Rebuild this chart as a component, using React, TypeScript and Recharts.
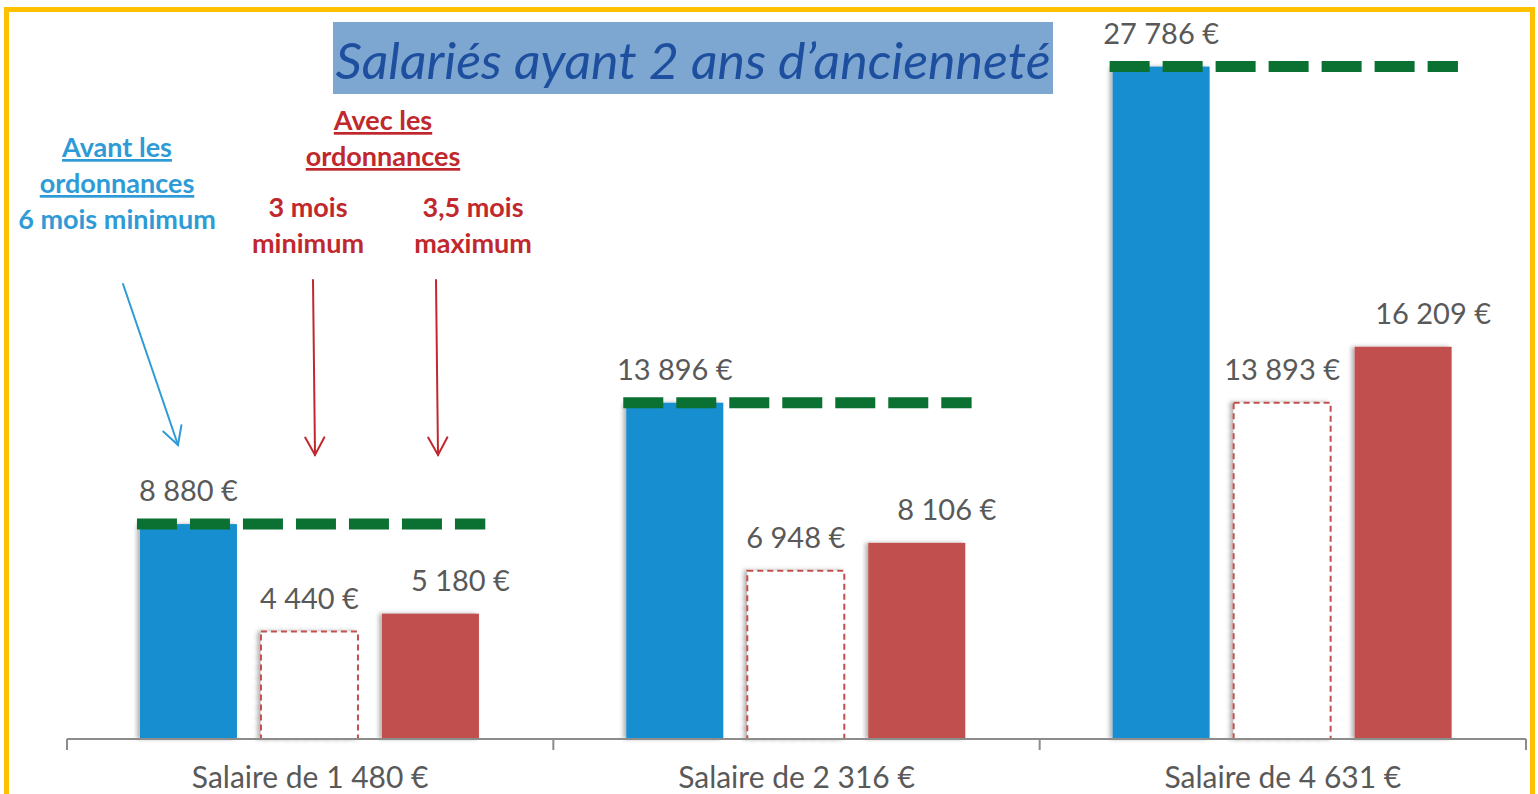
import { BarChart, Bar, XAxis, YAxis, LabelList } from "recharts";

// values
const categories = ["Salaire de 1 480 €", "Salaire de 2 316 €", "Salaire de 4 631 €"];
const avantValues = [8880, 13896, 27786]; // avant les ordonnances, 6 mois minimum
const minValues = [4440, 6948, 13893]; // avec les ordonnances, 3 mois minimum
const maxValues = [5180, 8106, 16209]; // avec les ordonnances, 3,5 mois maximum

const data = categories.map((name, i) => ({
  name,
  avant: avantValues[i],
  min: minValues[i],
  max: maxValues[i],
}));

const W = 1538;
const H = 794;
const M = { top: 13, right: 12, bottom: 0, left: 67 };
const AXIS_H = 55;
const AXIS_Y = H - AXIS_H;
const PLOT_W = W - M.left - M.right;

const BLUE = "#168ecf";
const RED = "#c0504d";
const GREEN = "#0b7133";
const GREY = "#595959";
const FONT = "Lato, 'Open Sans', sans-serif";

const fmt = (n: number) => String(n).replace(/\B(?=(\d{3})+(?!\d))/g, " ") + " €";

const makeLabel = (dx: number) => (props: any) => {
  const { x, y, width, value } = props;
  return (
    <text x={x + width / 2 + dx} y={y - 23} textAnchor="middle" fontSize={29} fill={GREY} fontFamily={FONT}>
      {fmt(value)}
    </text>
  );
};

const AvantShape = (props: any) => {
  const { x, y, width, height } = props;
  return (
    <g>
      <rect x={x} y={y} width={width} height={height} fill={BLUE} filter="url(#barShadow)" />
      <line x1={x - 3} x2={x + width * 3.56} y1={y} y2={y} stroke={GREEN} strokeWidth={11} strokeDasharray="40 13" />
    </g>
  );
};

const MinShape = (props: any) => {
  const { x, y, width, height } = props;
  return (
    <rect x={x} y={y} width={width} height={height} fill="#fff" stroke={RED} strokeWidth={2} strokeDasharray="6 4" filter="url(#barShadow)" />
  );
};

const MaxShape = (props: any) => {
  const { x, y, width, height } = props;
  return <rect x={x} y={y} width={width} height={height} fill={RED} filter="url(#barShadow)" />;
};

const CatTick = (props: any) => {
  const { x, payload, index } = props;
  const half = PLOT_W / categories.length / 2;
  return (
    <g>
      {index === 0 && <line x1={x - half} x2={x - half} y1={AXIS_Y} y2={AXIS_Y + 11} stroke="#8c8c8c" strokeWidth={2} />}
      <line x1={x + half} x2={x + half} y1={AXIS_Y} y2={AXIS_Y + 11} stroke="#8c8c8c" strokeWidth={2} />
      <text x={x} y={AXIS_Y + 49} textAnchor="middle" fontSize={30} fill={GREY} fontFamily={FONT}>
        {payload.value}
      </text>
    </g>
  );
};

const Arrow = ({ from, to, color }: { from: [number, number]; to: [number, number]; color: string }) => {
  const a = Math.atan2(to[1] - from[1], to[0] - from[0]);
  const len = 20;
  const w1: [number, number] = [to[0] - len * Math.cos(a - 0.5), to[1] - len * Math.sin(a - 0.5)];
  const w2: [number, number] = [to[0] - len * Math.cos(a + 0.5), to[1] - len * Math.sin(a + 0.5)];
  return (
    <g stroke={color} strokeWidth={2} fill="none" strokeLinecap="round">
      <line x1={from[0]} y1={from[1]} x2={to[0]} y2={to[1]} />
      <polyline points={`${w1[0]},${w1[1]} ${to[0]},${to[1]} ${w2[0]},${w2[1]}`} />
    </g>
  );
};

export default function App() {
  const blueTxt = "#2e9bd7";
  const redTxt = "#c0282d";
  return (
    <div style={{ position: "absolute", left: 0, top: 0, width: W, height: H, background: "#fff", overflow: "hidden" }}>
      <BarChart width={W} height={H} data={data} margin={M} barCategoryGap="15%" barGap={24}>
        <defs>
          <filter id="barShadow" x="-20%" y="-5%" width="140%" height="110%">
            <feDropShadow dx={-3} dy={0} stdDeviation={2} floodColor="#000" floodOpacity={0.3} />
          </filter>
        </defs>
        <YAxis hide domain={[0, 30000]} />
        <XAxis
          dataKey="name"
          height={AXIS_H}
          interval={0}
          axisLine={{ stroke: "#8c8c8c", strokeWidth: 2 }}
          tickLine={false}
          tick={<CatTick />}
        />
        <Bar dataKey="avant" shape={<AvantShape />} isAnimationActive={false}>
          <LabelList dataKey="avant" content={makeLabel(0)} />
        </Bar>
        <Bar dataKey="min" shape={<MinShape />} isAnimationActive={false}>
          <LabelList dataKey="min" content={makeLabel(0)} />
        </Bar>
        <Bar dataKey="max" shape={<MaxShape />} isAnimationActive={false}>
          <LabelList dataKey="max" content={makeLabel(30)} />
        </Bar>
      </BarChart>

      <svg width={W} height={H} style={{ position: "absolute", left: 0, top: 0, pointerEvents: "none" }}>
        <rect x={333} y={22} width={720} height={72} fill="#7da6d1" />
        <text x={693} y={79} textAnchor="middle" fontSize={50} fontStyle="italic" fill="#1d4f9e" fontFamily={FONT} textLength={715} lengthAdjust="spacingAndGlyphs">
          Salariés ayant 2 ans d’ancienneté
        </text>

        <g fontFamily={FONT} fontWeight="bold" fontSize={27} textAnchor="middle">
          <g fill={blueTxt}>
            <text x={117} y={157} textDecoration="underline">Avant les</text>
            <text x={117} y={193} textDecoration="underline">ordonnances</text>
            <text x={117} y={229}>6 mois minimum</text>
          </g>
          <g fill={redTxt}>
            <text x={383} y={130} textDecoration="underline">Avec les</text>
            <text x={383} y={166} textDecoration="underline">ordonnances</text>
            <text x={308} y={217}>3 mois</text>
            <text x={308} y={253}>minimum</text>
            <text x={473} y={217}>3,5 mois</text>
            <text x={473} y={253}>maximum</text>
          </g>
        </g>

        <Arrow from={[123, 284]} to={[178, 445]} color={blueTxt} />
        <Arrow from={[313, 280]} to={[315, 455]} color={redTxt} />
        <Arrow from={[436, 280]} to={[438, 455]} color={redTxt} />
      </svg>

      <div style={{ position: "absolute", left: 4, top: 7, width: 1521, height: 820, border: "5px solid #ffc000" }} />
    </div>
  );
}
